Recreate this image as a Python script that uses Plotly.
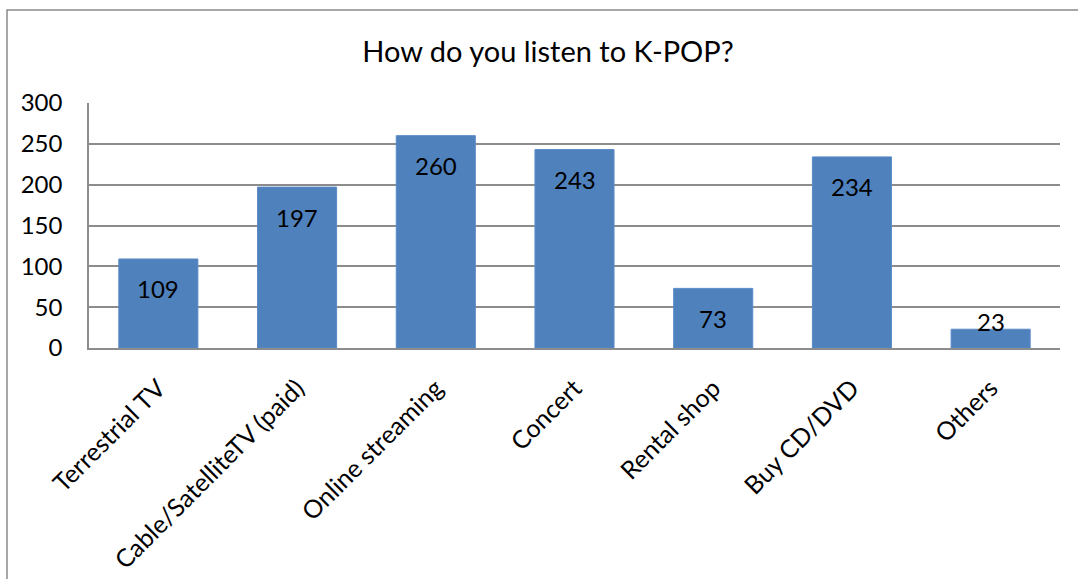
import plotly.graph_objects as go

# Survey answers: how respondents listen to K-POP
categories = [
    "Terrestrial TV",
    "Cable/SatelliteTV (paid)",
    "Online streaming",
    "Concert",
    "Rental shop",
    "Buy CD/DVD",
    "Others",
]
counts = [109, 197, 260, 243, 73, 234, 23]

y_ticks = [0, 50, 100, 150, 200, 250, 300]

FONT = "Lato, Calibri, sans-serif"
BAR_COLOR = "#4F81BD"
GRID_COLOR = "#8C8C8C"

W, H = 1078, 579
L, R, T, B = 89, 18, 103, 231

fig = go.Figure(
    go.Bar(
        x=categories,
        y=counts,
        marker=dict(color=BAR_COLOR, line=dict(color="#5A8AC6", width=1)),
        width=0.57,
        hoverinfo="x+y",
    )
)

# Value labels placed just inside the bar top (above the bar when it is too short)
for cat, v in zip(categories, counts):
    fig.add_annotation(
        x=cat, y=v, xref="x", yref="y",
        text=str(v), showarrow=False,
        yanchor="middle",
        yshift=-30 if v > 50 else 8,
        font=dict(family=FONT, size=24, color="#000000"),
    )

# Outer chart frame
plot_w = W - L - R
plot_h = H - T - B
fig.add_shape(
    type="rect", xref="paper", yref="paper",
    x0=(7 - L) / plot_w, x1=1.2,
    y0=-2, y1=(H - B - 10) / plot_h,
    line=dict(color="#8A8A8A", width=1.5),
    fillcolor="rgba(0,0,0,0)", layer="below",
)

fig.update_layout(
    width=W, height=H,
    margin=dict(l=L, r=R, t=T, b=B, autoexpand=False),
    paper_bgcolor="white",
    plot_bgcolor="white",
    showlegend=False,
    title=dict(
        text="How do you listen to K-POP?",
        x=548 / W, xref="container", xanchor="center",
        y=1 - 52 / H, yref="container", yanchor="middle",
        font=dict(family=FONT, size=29, color="#000000"),
    ),
    bargap=0.43,
)

fig.update_yaxes(
    range=[0, 300],
    tickvals=y_ticks,
    ticktext=[str(t) for t in y_ticks],
    showgrid=True, gridcolor=GRID_COLOR, gridwidth=1.5,
    showline=True, linecolor=GRID_COLOR, linewidth=1.5,
    zeroline=False,
    ticks="", ticklabelstandoff=20,
    tickfont=dict(family=FONT, size=24, color="#000000"),
)
fig.update_xaxes(
    showgrid=False,
    showline=True, linecolor=GRID_COLOR, linewidth=1.5,
    ticks="", tickangle=-45, ticklabelstandoff=14,
    tickfont=dict(family=FONT, size=25, color="#000000"),
)

fig.write_html("out.html")
